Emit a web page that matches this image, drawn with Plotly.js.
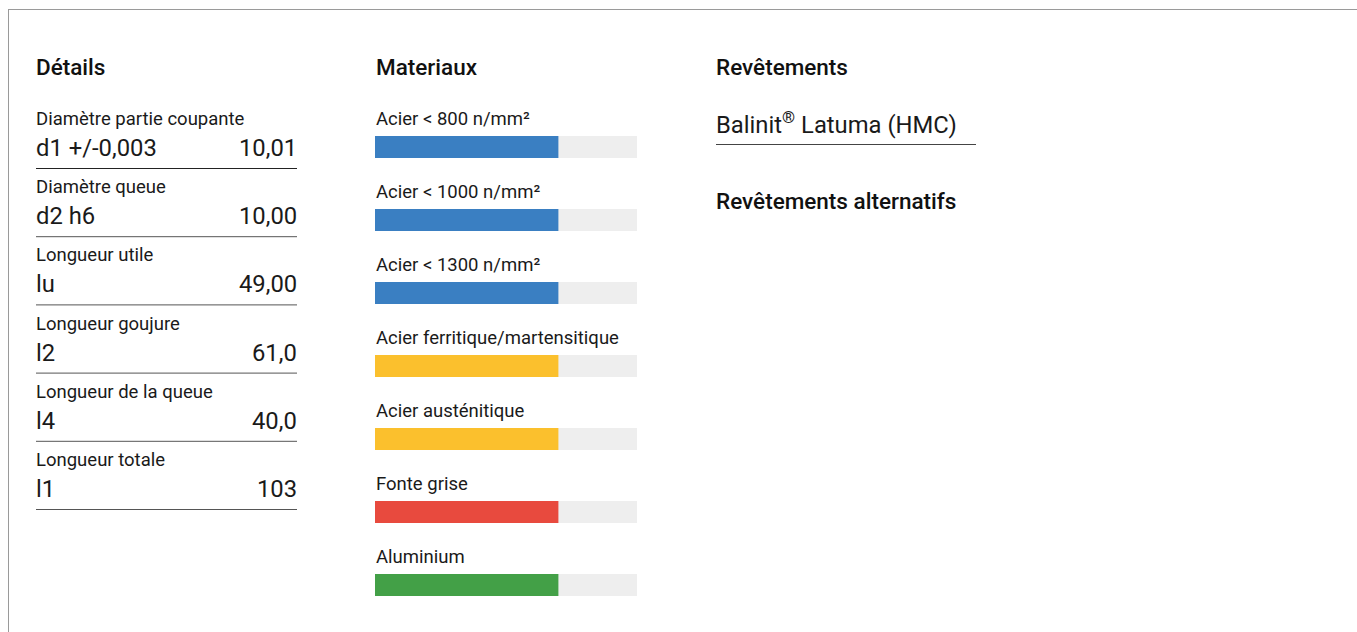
<!DOCTYPE html>
<html>
<head>
<meta charset="utf-8">
<script src="https://cdn.plot.ly/plotly-3.0.1.min.js"></script>
<style>
html,body{margin:0;padding:0;background:#fff;}
#chart{width:1357px;height:632px;}
</style>
</head>
<body>
<div id="chart"></div>
<script>
// ---- data ----
var detailLabels = ["Diamètre partie coupante", "Diamètre queue", "Longueur utile", "Longueur goujure", "Longueur de la queue", "Longueur totale"];
var detailSymbols = ["d1 +/-0,003", "d2 h6", "lu", "l2", "l4", "l1"];
var detailValues = ["10,01", "10,00", "49,00", "61,0", "40,0", "103"];

var materials = ["Acier < 800 n/mm²", "Acier < 1000 n/mm²", "Acier < 1300 n/mm²", "Acier ferritique/martensitique", "Acier austénitique", "Fonte grise", "Aluminium"];
var materialScores = [70, 70, 70, 70, 70, 70, 70];
var materialMax = [100, 100, 100, 100, 100, 100, 100];
var materialColors = ["#3a7fc2", "#3a7fc2", "#3a7fc2", "#fbc02d", "#fbc02d", "#e84a3e", "#43a047"];

var headings = ["Détails", "Materiaux", "Revêtements", "Revêtements alternatifs"];
var coatings = ["Balinit<sup>®</sup> Latuma (HMC)"];

// ---- layout helpers ----
var W = 1357, H = 632;
function px(x){ return x / W; }
function py(y){ return 1 - y / H; }

var headFont = {family: "Roboto", size: 22.5, color: "#111", weight: 500};
var labelFont = {family: "Roboto", size: 18.5, color: "#1a1a1a"};
var valueFont = {family: "Roboto", size: 23.8, color: "#1a1a1a"};

var annotations = [];
var shapes = [];

// frame
shapes.push({type: "line", xref: "paper", yref: "paper", x0: px(8), x1: 1, y0: py(9.5), y1: py(9.5), line: {color: "#9a9a9a", width: 1}});
shapes.push({type: "line", xref: "paper", yref: "paper", x0: px(8.5), x1: px(8.5), y0: py(9), y1: 0, line: {color: "#9a9a9a", width: 1}});

// headings
var headPos = [[36, 67], [376, 67], [716, 67], [716, 201]];
headings.forEach(function(h, i){
  annotations.push({xref: "paper", yref: "paper", x: px(headPos[i][0]), y: py(headPos[i][1]), xshift: -2, xanchor: "left", yanchor: "middle", text: h, showarrow: false, font: headFont});
});

// details column
detailLabels.forEach(function(lab, i){
  var top = 119 + i * 68.2;
  annotations.push({xref: "paper", yref: "paper", x: px(36), y: py(top), xshift: -2, xanchor: "left", yanchor: "middle", text: lab, showarrow: false, font: labelFont});
  annotations.push({xref: "paper", yref: "paper", x: px(36), y: py(top + 29), xshift: -2, xanchor: "left", yanchor: "middle", text: detailSymbols[i], showarrow: false, font: valueFont});
  annotations.push({xref: "paper", yref: "paper", x: px(297), y: py(top + 29), xshift: 2, xanchor: "right", yanchor: "middle", text: detailValues[i], showarrow: false, font: valueFont});
  shapes.push({type: "line", xref: "paper", yref: "paper", x0: px(36), x1: px(297), y0: py(top + 49.5), y1: py(top + 49.5), line: {color: i === 0 ? "#222" : "#555", width: 1}});
});

// coatings column
coatings.forEach(function(c, i){
  annotations.push({xref: "paper", yref: "paper", x: px(716), y: py(124), xshift: -2, xanchor: "left", yanchor: "middle", text: c, showarrow: false, font: valueFont});
  shapes.push({type: "line", xref: "paper", yref: "paper", x0: px(716), x1: px(976), y0: py(144.5), y1: py(144.5), line: {color: "#444", width: 1}});
});

// material labels above bars
materials.forEach(function(m){
  annotations.push({xref: "x", yref: "y", x: 0, y: m, xanchor: "left", yanchor: "middle", yshift: 28, xshift: -1, text: m, showarrow: false, font: labelFont});
});

var traces = [
  {type: "bar", orientation: "h", y: materials, x: materialMax, marker: {color: "#eeeeee"}, width: 0.3, hoverinfo: "skip", showlegend: false},
  {type: "bar", orientation: "h", y: materials, x: materialScores, marker: {color: materialColors}, width: 0.3, hoverinfo: "skip", showlegend: false}
];

// bar centers at 147 + 73*i px; axis range [-0.5, 6.5] reversed
var yTop = 147 - 36.5, yBot = 147 + 73 * 6 + 36.5;

var layout = {
  width: W, height: H,
  margin: {l: 0, r: 0, t: 0, b: 0},
  paper_bgcolor: "#fff", plot_bgcolor: "rgba(0,0,0,0)",
  barmode: "overlay",
  showlegend: false,
  xaxis: {domain: [px(375), px(637)], range: [0, 100], showgrid: false, zeroline: false, showticklabels: false, ticks: "", fixedrange: true},
  yaxis: {domain: [py(yBot), py(yTop)], type: "category", categoryorder: "array", categoryarray: materials, range: [6.5, -0.5], showgrid: false, zeroline: false, showticklabels: false, ticks: "", fixedrange: true},
  annotations: annotations,
  shapes: shapes
};

Plotly.newPlot("chart", traces, layout, {displayModeBar: false, staticPlot: true});
</script>
</body>
</html>
